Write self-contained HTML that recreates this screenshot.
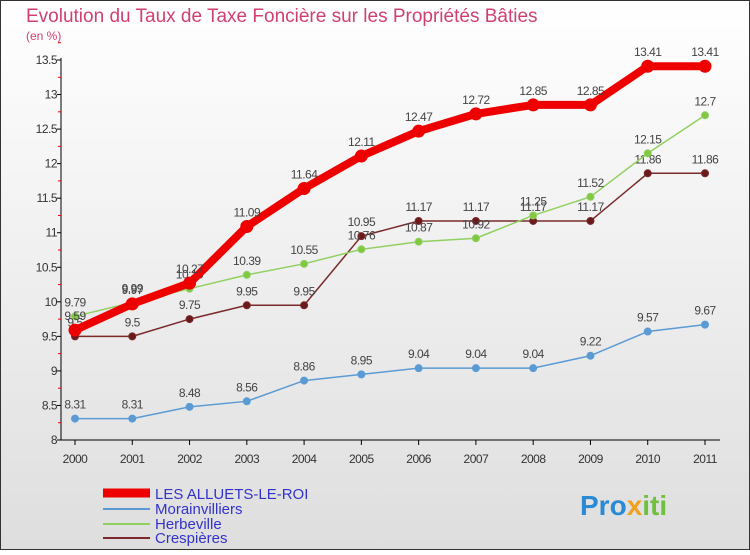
<!DOCTYPE html>
<html><head><meta charset="utf-8"><style>
body{margin:0;width:750px;height:550px;overflow:hidden;font-family:"Liberation Sans",sans-serif}
svg text{font-family:"Liberation Sans",sans-serif}
</style></head><body>
<svg id="c" width="750" height="550">
<defs><linearGradient id="bg" x1="0" y1="0" x2="0" y2="1"><stop offset="0" stop-color="#ffffff"/><stop offset="1" stop-color="#dedede"/></linearGradient></defs>
<rect x="0.5" y="0.5" width="749" height="549" fill="url(#bg)" stroke="#333"/>
<text x="26" y="22" font-size="19" fill="#d04070">Evolution du Taux de Taxe Foncière sur les Propriétés Bâties</text>
<text x="26" y="40" font-size="12" fill="#d04070">(en %)</text>
<g id="axes"></g><g id="series"></g>
<g>
<line x1="103" y1="493" x2="150" y2="493" stroke="#ee0000" stroke-width="9"/>
<text x="155" y="499" font-size="15" fill="#3333cc">LES ALLUETS-LE-ROI</text>
<line x1="103" y1="509" x2="150" y2="509" stroke="#5b9bd5" stroke-width="2"/>
<text x="155" y="514" font-size="15" fill="#3333cc">Morainvilliers</text>
<line x1="103" y1="524" x2="150" y2="524" stroke="#90d060" stroke-width="2"/>
<text x="155" y="529" font-size="15" fill="#3333cc">Herbeville</text>
<line x1="103" y1="538" x2="150" y2="538" stroke="#7a2a2a" stroke-width="2"/>
<text x="155" y="543" font-size="15" fill="#3333cc">Crespières</text>
</g>
<text x="580" y="515" font-size="28" font-weight="bold" fill="#2a8ad4">Pro<tspan fill="#f0a020">x</tspan><tspan fill="#70c040">iti</tspan></text>
</svg>
<script>
const years=[2000,2001,2002,2003,2004,2005,2006,2007,2008,2009,2010,2011];
const yTicks=[8,8.5,9,9.5,10,10.5,11,11.5,12,12.5,13,13.5];
const alluets=[9.59,9.97,10.27,11.09,11.64,12.11,12.47,12.72,12.85,12.85,13.41,13.41];
const morain=[8.31,8.31,8.48,8.56,8.86,8.95,9.04,9.04,9.04,9.22,9.57,9.67];
const herbe=[9.79,9.99,10.19,10.39,10.55,10.76,10.87,10.92,11.25,11.52,12.15,12.7];
const cresp=[9.5,9.5,9.75,9.95,9.95,10.95,11.17,11.17,11.17,11.17,11.86,11.86];
const NS="http://www.w3.org/2000/svg";
const X=i=>75+i*(630/11);
const Y=v=>440-(v-8)*(380/5.5);
function mk(t,a,p){const e=document.createElementNS(NS,t);for(const k in a)e.setAttribute(k,a[k]);p.appendChild(e);return e;}
const ax=document.getElementById('axes');
const yl=mk('line',{x1:61,y1:58,x2:61,y2:440,stroke:'#000'},ax);


const xl=mk('line',{x1:61,y1:440,x2:720,y2:440,stroke:'#000'},ax);


yTicks.forEach(v=>{
  mk('line',{x1:57,y1:Y(v),x2:61,y2:Y(v),stroke:'#000'},ax);
  mk('line',{x1:58,y1:Y(v+0.25),x2:61,y2:Y(v+0.25),stroke:'#e00'},ax);
  const t=mk('text',{x:57,y:Y(v)+4,'font-size':12,fill:'#333','text-anchor':'end','letter-spacing':'-0.5'},ax);
  t.textContent=v;
  
  
});
years.forEach((y,i)=>{
  mk('line',{x1:X(i),y1:440,x2:X(i),y2:445,stroke:'#000'},ax);
  const t=mk('text',{x:X(i),y:463,'font-size':12,fill:'#333','text-anchor':'middle','letter-spacing':'-0.5'},ax);
  t.textContent=y;
  
  
});
const sg=document.getElementById('series');
function series(data,color,w,r,name,fill){
  const g=mk('g',{},sg);
  
  
  const pl=mk('polyline',{points:data.map((v,i)=>X(i)+','+Y(v)).join(' '),fill:'none',stroke:color,'stroke-width':w,'stroke-linejoin':'round'},g);
  
  
  data.forEach((v,i)=>{
    const c=mk('circle',{cx:X(i),cy:Y(v),r:r,fill:fill,stroke:color,'stroke-width':1},g);
    
    
    const t=mk('text',{x:X(i),y:Y(v)-10,'font-size':12,fill:'#444','text-anchor':'middle','letter-spacing':'-0.5'},g);
    t.textContent=v;
    
    
  });
}
series(morain,'#5b9bd5',1.5,3.5,'morainvilliers','#5b9bd5');
series(cresp,'#7a2a2a',1.5,3.5,'crespieres','#6a1a1a');
series(herbe,'#90d060',1.5,3.5,'herbeville','#80c840');
series(alluets,'#ee0000',8,6,'alluets','#ee0000');
</script>
</body></html>
